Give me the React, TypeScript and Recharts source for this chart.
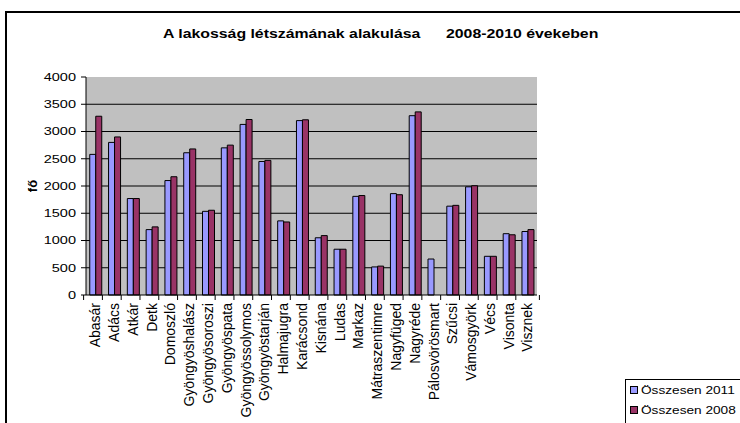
import { BarChart, Bar, XAxis, YAxis, CartesianGrid, Legend } from "recharts";

const VILLAGES = [
  "Abasár", "Adács", "Atkár", "Detk", "Domoszló", "Gyöngyöshalász", "Gyöngyösoroszi",
  "Gyöngyöspata", "Gyöngyössolymos", "Gyöngyöstarján", "Halmajugra", "Karácsond",
  "Kisnána", "Ludas", "Markaz", "Mátraszentimre", "Nagyfüged", "Nagyréde",
  "Pálosvörösmart", "Szűcsi", "Vámosgyörk", "Vécs", "Visonta", "Visznek",
];

const TOTAL_2011 = [
  2580, 2800, 1770, 1200, 2100, 2610, 1535, 2700, 3130, 2450, 1360, 3200,
  1050, 840, 1810, 515, 1860, 3290, 660, 1630, 1985, 710, 1125, 1165,
];

const TOTAL_2008: (number | null)[] = [
  3280, 2900, 1770, 1250, 2170, 2680, 1555, 2750, 3220, 2470, 1340, 3215,
  1090, 840, 1825, 530, 1840, 3360, null, 1645, 2005, 710, 1105, 1200,
];

const Y_TICKS = [0, 500, 1000, 1500, 2000, 2500, 3000, 3500, 4000];

const data = VILLAGES.map((name, i) => ({
  name,
  y2011: TOTAL_2011[i],
  y2008: TOTAL_2008[i],
}));

const FONT = "'Liberation Sans', Arial, sans-serif";
const PLOT_W = 566;
const STRETCH = 1.32; // the source picture is widened, text looks stretched

function VillageTick(props: any) {
  const { x, y, payload, index } = props;
  const half = PLOT_W / VILLAGES.length / 2;
  const top = y - 8;
  return (
    <g>
      <line x1={x - half} y1={top} x2={x - half} y2={top + 5} stroke="#000" />
      {index === VILLAGES.length - 1 && (
        <line x1={x + half} y1={top} x2={x + half} y2={top + 5} stroke="#000" />
      )}
      <text
        x={x}
        y={y}
        transform={`rotate(-90, ${x}, ${y})`}
        textAnchor="end"
        dy="0.35em"
        fontSize={14}
        fill="#000"
      >
        {payload.value}
      </text>
    </g>
  );
}

function ValueTick(props: any) {
  const { x, y, payload } = props;
  return (
    <text
      transform={`translate(${x}, ${y}) scale(${STRETCH}, 1)`}
      textAnchor="end"
      dy="0.36em"
      fontSize={11}
      fill="#000"
    >
      {payload.value}
    </text>
  );
}

function LegendBox() {
  const items = [
    { label: "Összesen 2011", color: "#9999FF" },
    { label: "Összesen 2008", color: "#993366" },
  ];
  return (
    <div
      style={{
        border: "1px solid #000",
        borderRight: "none",
        borderBottom: "none",
        padding: "0 0 0 4px",
        width: 115,
        height: 50,
        fontSize: 11,
        fontFamily: FONT,
        color: "#000",
        boxSizing: "border-box",
      }}
    >
      {items.map((it) => (
        <div key={it.label} style={{ display: "flex", alignItems: "center", height: 20 }}>
          <span
            style={{
              width: 6,
              height: 6,
              background: it.color,
              border: "1px solid #000",
              marginRight: 3,
              flexShrink: 0,
            }}
          />
          <span
            style={{
              whiteSpace: "nowrap",
              display: "inline-block",
              transform: "scaleX(1.24)",
              transformOrigin: "left center",
            }}
          >
            {it.label}
          </span>
        </div>
      ))}
    </div>
  );
}

const titleStyle = {
  position: "absolute" as const,
  top: 27,
  fontSize: 12,
  fontWeight: "bold" as const,
  whiteSpace: "nowrap" as const,
  transform: `scaleX(${STRETCH})`,
  transformOrigin: "left center",
};

export default function App() {
  return (
    <div
      style={{
        position: "absolute",
        left: 0,
        top: 0,
        width: 740,
        height: 423,
        overflow: "hidden",
        background: "#fff",
        fontFamily: FONT,
      }}
    >
      <div
        style={{
          position: "absolute",
          left: 5,
          top: 11,
          width: 740,
          height: 420,
          borderTop: "2px solid #000",
          borderLeft: "2px solid #000",
        }}
      />
      <div style={{ ...titleStyle, left: 163 }}>A lakosság létszámának alakulása</div>
      <div style={{ ...titleStyle, left: 446 }}>2008-2010 évekeben</div>
      <BarChart
        width={740}
        height={423}
        data={data}
        margin={{ top: 77, right: 88, left: 0, bottom: 0 }}
        barCategoryGap="20%"
        barGap={0}
        style={{ position: "absolute", left: 0, top: 0 }}
      >
        <CartesianGrid
          vertical={false}
          fill="#C0C0C0"
          fillOpacity={1}
          stroke="#000"
          horizontalValues={[500, 1000, 1500, 2000, 2500, 3000, 3500]}
        />
        <XAxis
          dataKey="name"
          interval={0}
          height={128}
          tickLine={false}
          tickSize={5}
          tickMargin={3}
          axisLine={{ stroke: "#000" }}
          tick={<VillageTick />}
        />
        <XAxis
          xAxisId="top"
          orientation="top"
          dataKey="name"
          height={0}
          tick={false}
          tickLine={false}
          axisLine={{ stroke: "#808080", strokeWidth: 2 }}
        />
        <YAxis
          domain={[0, 4000]}
          ticks={Y_TICKS}
          width={86}
          tickSize={5}
          tickMargin={5}
          interval={0}
          axisLine={{ stroke: "#000" }}
          tickLine={{ stroke: "#000" }}
          tick={<ValueTick />}
          label={{
            value: "fő",
            angle: -90,
            position: "center",
            dx: -11,
            style: { fontSize: 13, fontWeight: "bold", fill: "#000" },
          }}
        />
        <YAxis
          yAxisId="right"
          orientation="right"
          width={0}
          domain={[0, 4000]}
          tick={false}
          tickLine={false}
          axisLine={{ stroke: "#808080", strokeWidth: 2 }}
        />
        <Legend
          layout="vertical"
          verticalAlign="bottom"
          align="right"
          content={<LegendBox />}
          wrapperStyle={{ left: 625, top: 379, width: 115, height: 50 }}
        />
        <Bar
          dataKey="y2011"
          name="Összesen 2011"
          fill="#9999FF"
          stroke="#000"
          strokeWidth={1}
          isAnimationActive={false}
        />
        <Bar
          dataKey="y2008"
          name="Összesen 2008"
          fill="#993366"
          stroke="#000"
          strokeWidth={1}
          isAnimationActive={false}
        />
      </BarChart>
    </div>
  );
}
